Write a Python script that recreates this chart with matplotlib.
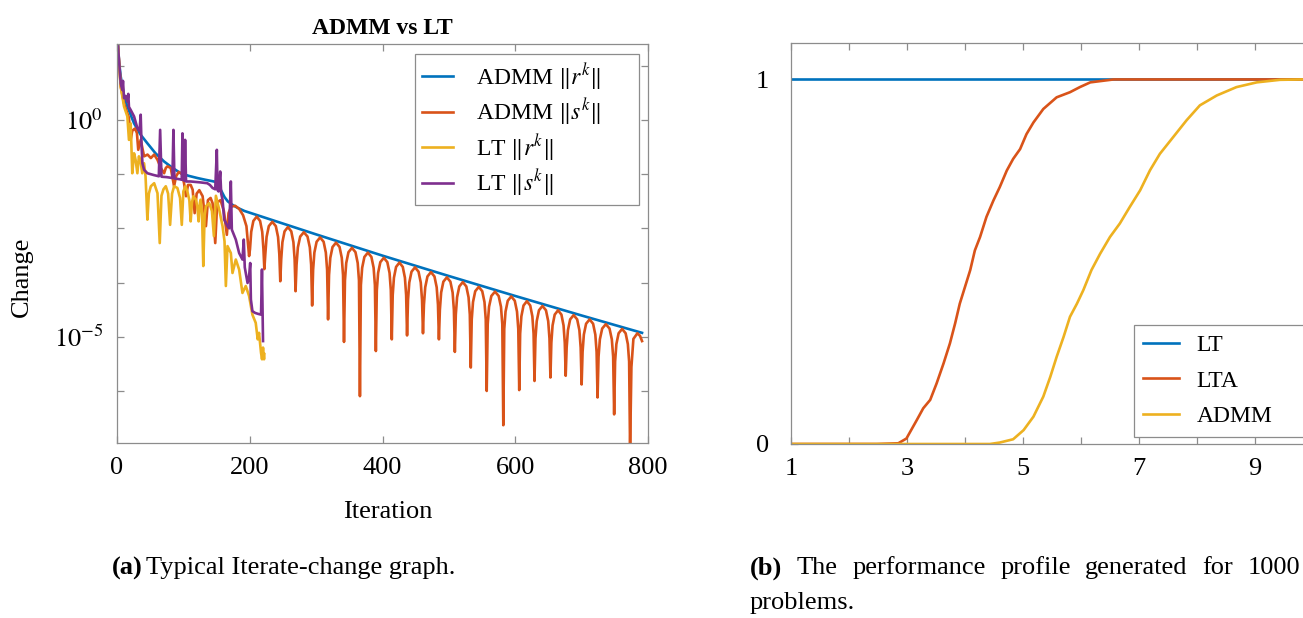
import matplotlib
matplotlib.use("Agg")
import matplotlib.pyplot as plt
import numpy as np

plt.rcParams['font.family'] = ['Liberation Serif', 'DejaVu Serif']
plt.rcParams['mathtext.fontset'] = 'stix'

BLUE = '#0072BD'
ORANGE = '#D95319'
YELLOW = '#EDB120'
PURPLE = '#7E2F8E'
EDGE = '#8c8c8c'

# ---- (a) iterate change, values as log10 ----
admm_r_iter = [1, 3, 5.6, 10, 15.6, 25.7, 35, 45.8, 58, 71, 84, 96, 108, 121, 133, 146, 152, 156,
               162, 167, 175, 182, 192, 200, 250, 300, 350, 400, 450, 500, 550, 600, 650, 700,
               750, 791]
admm_r_log = [1.9, 1.35, 1.0, 0.6, 0.31, -0.08, -0.33, -0.54, -0.77, -0.96, -1.11, -1.23, -1.29,
              -1.34, -1.38, -1.42, -1.45, -1.6, -1.78, -1.88, -1.97, -2.03, -2.1, -2.14, -2.39,
              -2.64, -2.885, -3.13, -3.365, -3.6, -3.83, -4.06, -4.285, -4.51, -4.73, -4.91]

# ADMM ||s^k||: irregular start, then regular arches between dips
admm_s_head_iter = [1, 5.6, 10.6, 15.6, 18, 20.6, 23, 27, 30, 32, 35.7, 40.8, 46, 51, 56, 61, 66,
                    71, 73.5, 76, 81, 86, 89, 93, 98, 101, 104, 107, 111, 114, 117, 120, 124, 129,
                    134, 137, 141, 144, 148, 151, 156, 161, 165.5, 168, 172, 178, 184, 190, 195]
admm_s_head_log = [1.8, 0.77, 0.38, 0.15, 0.05, -0.46, -0.25, -0.2, -0.3, -0.69, -0.46, -0.84,
                   -0.80, -0.88, -0.80, -0.92, -1.11, -1.23, -1.11, -1.07, -1.11, -1.53, -1.3,
                   -1.2, -1.25, -1.46, -1.76, -1.5, -1.5, -1.61, -2.15, -1.7, -1.62, -1.76, -2.45,
                   -1.85, -1.8, -1.92, -2.84, -1.9, -1.85, -2.1, -2.65, -2.15, -2.0, -1.98, -2.05,
                   -2.2, -2.45]
dip_iter = [199, 222, 246, 269, 294, 318, 342, 366, 390, 414, 437, 461, 485, 509, 533, 557, 582,
            606, 629, 653, 676, 700, 724, 749, 773]
dip_log = [-3.14, -3.44, -3.72, -3.95, -4.28, -4.60, -5.12, -6.37, -5.33, -5.06, -4.97, -4.92,
           -5.06, -5.35, -5.71, -6.25, -7.04, -6.23, -6.02, -5.94, -5.90, -6.10, -6.40, -6.79,
           -7.6]
peak_log = [-2.23, -2.35, -2.47, -2.59, -2.71, -2.83, -2.95, -3.06, -3.18, -3.29, -3.40, -3.51,
            -3.63, -3.74, -3.85, -3.96, -4.07, -4.18, -4.29, -4.39, -4.50, -4.60, -4.71, -4.82]
# arch profile: position inside a dip interval, drop below the peak
arch_frac = [0.06, 0.14, 0.28, 0.5, 0.72, 0.86, 0.94]
arch_drop = [0.75, 0.35, 0.1, 0.0, 0.1, 0.35, 0.75]
admm_s_tail_iter = [775, 778, 784, 788, 791]
admm_s_tail_log = [-5.7, -5.05, -4.92, -4.98, -5.1]

lt_r_iter = [1, 5.6, 10.6, 15.6, 18, 20.6, 23, 25.7, 28, 30.7, 33, 35.5, 38, 40.8, 43, 45.8, 48,
             51, 56, 61, 64.4, 67, 70, 73.5, 77, 80, 83, 86, 91, 95, 97.6, 100, 103, 106, 109,
             111, 113, 115, 119, 121, 123, 125, 126, 128, 130, 132, 134, 139, 143, 146, 149,
             154, 159, 162, 164, 166.5, 171.5, 174, 179, 184, 189, 194, 199, 204, 209, 212, 214,
             217, 218.5, 220, 221.5, 222]
lt_r_log = [1.8, 0.77, 0.31, 0.08, -0.46, -0.08, -1.23, -0.77, -0.92, -1.23, -0.84, -0.95, -1.23,
            -1.0, -1.3, -2.30, -1.7, -1.53, -1.46, -1.69, -2.84, -1.75, -1.6, -1.53, -1.7, -2.42,
            -1.7, -1.53, -1.57, -1.8, -2.42, -1.65, -1.53, -1.65, -1.85, -2.34, -1.9, -1.76,
            -1.84, -2.0, -2.34, -1.9, -1.84, -2.1, -3.37, -2.2, -1.99, -1.92, -2.1, -2.68, -1.75,
            -2.07, -2.45, -2.8, -3.83, -2.91, -3.07, -3.53, -3.22, -3.45, -3.99, -3.83, -4.06,
            -4.49, -4.68, -5.06, -4.91, -5.37, -5.52, -5.25, -5.52, -5.4]

lt_s_iter = [1, 5.6, 8, 9, 10.6, 13, 15.6, 17, 18, 20.6, 25.7, 30.7, 34, 35.7, 37, 38.3, 40.8,
             45.8, 55, 63, 65, 67, 75, 83.5, 85, 86.5, 95, 97.5, 98.6, 100, 101.5, 102.6, 104,
             111, 125, 136, 140, 144, 148, 150.4, 151.5, 153, 155.5, 157, 159, 161.5, 166.5,
             169, 171.5, 173, 179, 184, 189, 191, 192.5, 194, 196.7, 199, 200.7, 201.7, 204,
             208, 212, 217, 218.4, 219.5, 220]
lt_s_log = [1.8, 0.84, 0.69, 0.9, 0.5, 0.55, 0.42, 0.6, 0.3, 0.23, 0.08, -0.19, -0.25, 0.12, -0.6,
            -1.0, -1.15, -1.23, -1.27, -1.3, -0.23, -1.31, -1.32, -1.34, -0.23, -1.35, -1.37,
            -1.38, -0.31, -1.39, -1.4, -0.46, -1.42, -1.42, -1.44, -1.46, -1.5, -1.57, -1.6,
            -0.69, -1.62, -1.65, -1.19, -1.7, -1.84, -2.30, -2.45, -2.5, -1.42, -2.53, -2.76,
            -3.07, -3.22, -2.76, -3.4, -3.53, -3.76, -3.6, -3.30, -4.14, -4.41, -4.45, -4.47,
            -4.49, -3.45, -4.6, -5.10]

# ---- (b) performance profile ----
lt_tau = [1, 10]
lt_rho = [1, 1]
lta_tau = [1, 2.48, 2.85, 2.99, 3.17, 3.28, 3.40, 3.51, 3.63, 3.74, 3.83, 3.91, 4.00, 4.09, 4.17,
           4.26, 4.37, 4.49, 4.60, 4.72, 4.83, 4.95, 5.06, 5.18, 5.35, 5.58, 5.81, 5.98, 6.16,
           6.56, 10]
lta_rho = [0, 0, 0.002, 0.015, 0.066, 0.098, 0.121, 0.166, 0.221, 0.276, 0.331, 0.385, 0.431,
           0.477, 0.531, 0.568, 0.623, 0.668, 0.705, 0.750, 0.782, 0.809, 0.850, 0.882, 0.919,
           0.951, 0.965, 0.979, 0.992, 1.0, 1.0]
admm_tau = [1, 4.43, 4.60, 4.83, 5.01, 5.18, 5.35, 5.47, 5.58, 5.70, 5.81, 5.93, 6.04, 6.18, 6.33,
            6.50, 6.67, 6.84, 7.02, 7.19, 7.36, 7.59, 7.82, 8.05, 8.34, 8.68, 9.03, 9.43, 9.8, 10]
admm_rho = [0, 0, 0.004, 0.013, 0.038, 0.075, 0.130, 0.184, 0.239, 0.294, 0.349, 0.385, 0.422,
            0.477, 0.522, 0.568, 0.605, 0.650, 0.696, 0.751, 0.796, 0.842, 0.888, 0.929, 0.956,
            0.979, 0.992, 0.999, 1.0, 1.0]

caption_a_tag = '(a)'
caption_a = 'Typical Iterate-change graph.'
caption_b_tag = '(b)'
caption_b_line1 = 'The performance profile generated for 1000'
caption_b_line2 = 'problems.'


def build_admm_s():
    it = list(admm_s_head_iter)
    lg = list(admm_s_head_log)
    it.append(dip_iter[0])
    lg.append(dip_log[0])
    for i in range(len(dip_iter) - 1):
        a, b = dip_iter[i], dip_iter[i + 1]
        for f, d in zip(arch_frac, arch_drop):
            it.append(a + f * (b - a))
            lg.append(peak_log[i] - d)
        it.append(b)
        lg.append(dip_log[i + 1])
    it += admm_s_tail_iter
    lg += admm_s_tail_log
    return np.array(it), np.array(lg)


def style_axes(ax):
    for sp in ax.spines.values():
        sp.set_color(EDGE)
        sp.set_linewidth(0.9)
    ax.tick_params(which='both', direction='in', top=True, right=True, color=EDGE,
                   length=5, width=0.9, labelsize=19, pad=10)


fig = plt.figure(figsize=(13.03, 6.18), dpi=100)
W, H = 1303, 618

# left panel
ax1 = fig.add_axes([117 / W, 1 - 443 / H, 531 / W, 399 / H])
lw = 1.9
ax1.plot(admm_r_iter, 10 ** np.array(admm_r_log), color=BLUE, lw=lw, label=r'ADMM $\|r^k\|$')
s_it, s_lg = build_admm_s()
ax1.plot(s_it, 10 ** s_lg, color=ORANGE, lw=lw, label=r'ADMM $\|s^k\|$')
ax1.plot(lt_r_iter, 10 ** np.array(lt_r_log), color=YELLOW, lw=lw, label=r'LT $\|r^k\|$')
ax1.plot(lt_s_iter, 10 ** np.array(lt_s_log), color=PURPLE, lw=lw, label=r'LT $\|s^k\|$')
ax1.set_yscale('log')
ax1.set_xlim(0, 800)
ax1.set_ylim(10 ** -7.45, 10 ** 1.75)
ax1.set_xticks([0, 200, 400, 600, 800])
ytick_exp = [1.25, 0, -1.25, -2.5, -3.75, -5, -6.25]
ax1.set_yticks([10 ** e for e in ytick_exp])
ax1.set_yticklabels(['', r'$10^{0}$', '', '', '', r'$10^{-5}$', ''])
ax1.minorticks_off()
style_axes(ax1)
ax1.set_title('ADMM vs LT', fontsize=17, fontweight='bold', pad=7)
leg1 = ax1.legend(loc='upper left', bbox_to_anchor=((415 - 117) / 531, 0.975, 224 / 531, 0),
                  mode='expand', borderaxespad=0, fontsize=17,
                  handlelength=1.3, handletextpad=1.0, labelspacing=0.2, borderpad=0.3,
                  fancybox=False, framealpha=1, edgecolor=EDGE)
leg1.get_frame().set_linewidth(0.9)

fig.text(388 / W, 1 - 512 / H, 'Iteration', fontsize=19, ha='center', va='center')
fig.text(22 / W, 1 - 277 / H, 'Change', fontsize=19, rotation=90, ha='center', va='center')

# right panel (extends past the figure edge, as in the reference)
ax2 = fig.add_axes([791 / W, 1 - 444 / H, 522 / W, 401 / H])
ax2.plot(lt_tau, lt_rho, color=BLUE, lw=lw, label='LT')
ax2.plot(lta_tau, lta_rho, color=ORANGE, lw=lw, label='LTA')
ax2.plot(admm_tau, admm_rho, color=YELLOW, lw=lw, label='ADMM')
ax2.set_xlim(1, 10)
ax2.set_ylim(0, 1.1)
ax2.set_xticks(range(1, 11))
ax2.set_xticklabels([str(v) if v % 2 == 1 else '' for v in range(1, 11)])
ax2.set_yticks([0, 1])
ax2.set_yticklabels(['0', '1'])
style_axes(ax2)
ax2.tick_params(axis='y', pad=16)
leg2 = ax2.legend(loc='upper left', bbox_to_anchor=((1134 - 791) / 522, 0.297, 200 / 522, 0),
                  mode='expand', borderaxespad=0, fontsize=17,
                  handlelength=1.5, handletextpad=0.75, labelspacing=0.6, borderpad=0.4,
                  fancybox=False, framealpha=1, edgecolor=EDGE)
leg2.get_frame().set_linewidth(0.9)

# captions
cap_y = 1 - 568 / H
fig.text(112 / W, cap_y, caption_a_tag, fontsize=19, fontweight='bold', va='center')
fig.text(146 / W, cap_y, caption_a, fontsize=19, va='center')

# justified first line of caption (b), spread between x=750 and x=1300
words = [caption_b_tag] + caption_b_line1.split()
word_texts = [fig.text(0, cap_y, w, fontsize=19, va='center',
                       fontweight='bold' if i == 0 else 'normal')
              for i, w in enumerate(words)]
renderer = fig.canvas.get_renderer()
widths = [t.get_window_extent(renderer).width for t in word_texts]
left, right = 750, 1300
gap = (right - left - sum(widths)) / (len(words) - 1)
x = left
for t, wd in zip(word_texts, widths):
    t.set_x(x / W)
    x += wd + gap
fig.text(750 / W, 1 - 603 / H, caption_b_line2, fontsize=19, va='center')

fig.savefig('out.png', dpi=100)
